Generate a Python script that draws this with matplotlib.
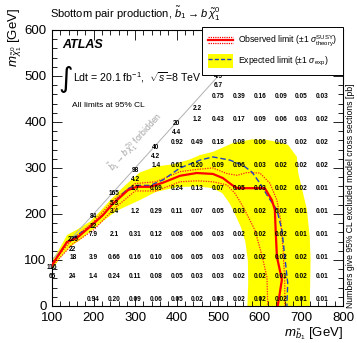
import numpy as np
import matplotlib
matplotlib.use('Agg')
import matplotlib.pyplot as plt
from matplotlib.lines import Line2D
from matplotlib.patches import Rectangle
from matplotlib.legend_handler import HandlerBase, HandlerTuple
from matplotlib.ticker import MultipleLocator

plt.rcParams['font.family'] = ['Liberation Sans', 'DejaVu Sans']
plt.rcParams['mathtext.fontset'] = 'custom'
plt.rcParams['mathtext.rm'] = 'Liberation Sans'
plt.rcParams['mathtext.it'] = 'Liberation Sans:italic'
plt.rcParams['mathtext.bf'] = 'Liberation Sans:bold'

# expected limit +-1 sigma band (upper/outer edge, then lower/inner edge)
band_up_mb = [100, 120, 136, 160, 191, 215, 240, 271, 311, 350, 391, 430, 456, 487, 535, 580, 617, 650, 668, 689, 692, 700, 713, 720, 722, 720]
band_up_mchi = [98, 128, 154, 166, 183, 205, 230, 258, 290, 303, 308, 318, 328, 335, 354, 362, 361, 355, 350, 324, 290, 260, 210, 150, 100, 0]
band_lo_mb = [100, 120, 143, 170, 191, 232, 256, 287, 311, 350, 400, 450, 487, 510, 528, 540, 555, 565, 571, 572, 570]
band_lo_mchi = [78, 105, 128, 145, 161, 191, 207, 220, 230, 248, 258, 260, 256, 245, 222, 200, 170, 140, 100, 50, 0]

# expected limit
exp_mb = [100, 136, 191, 223, 256, 283, 304, 336, 367, 408, 456, 487, 528, 559, 581, 600, 620, 641, 653, 660, 667, 665]
exp_mchi = [90, 139, 172, 198, 232, 255, 262, 262, 274, 300, 317, 324, 317, 306, 291, 267, 237, 209, 165, 107, 50, 0]

# observed limit and +-1 sigma theory
obs_mb = [100, 136, 160, 191, 223, 244, 256, 283, 304, 336, 367, 408, 448, 487, 511, 533, 545, 612, 629, 636, 638, 641, 653, 643]
obs_mchi = [89, 139, 148, 172, 198, 220, 230, 252, 259, 259, 268, 283, 289, 287, 278, 263, 256, 256, 230, 209, 165, 107, 57, 0]
obs_up_mb = [100, 150, 200, 250, 300, 350, 408, 450, 487, 520, 545, 569, 600, 624, 641, 650, 656, 660, 660]
obs_up_mchi = [93, 146, 183, 232, 266, 270, 292, 297, 300, 288, 284, 290, 289, 267, 230, 187, 120, 50, 0]
obs_dn_mb = [100, 150, 200, 250, 300, 350, 408, 450, 487, 521, 540, 560, 588, 605, 617, 619]
obs_dn_mchi = [86, 135, 165, 212, 250, 250, 270, 272, 270, 263, 245, 215, 165, 110, 63, 0]

# excluded cross sections [pb] at the model points
grid_rows = {
    450: ['', '', '', '', '', '', '', '', '0.75', '0.39', '0.16', '0.09', '0.05', '0.03'],
    400: ['', '', '', '', '', '', '', '1.2', '0.43', '0.17', '0.09', '0.06', '0.03', '0.02'],
    350: ['', '', '', '', '', '', '0.92', '0.49', '0.18', '0.08', '0.06', '0.03', '0.02', '0.02'],
    300: ['', '', '', '', '', '1.4', '0.61', '0.20', '0.09', '0.06', '0.03', '0.02', '0.02', '0.02'],
    250: ['', '', '', '', '1.7', '0.69', '0.24', '0.13', '0.07', '0.05', '0.03', '0.02', '0.02', '0.01'],
    200: ['', '', '', '3.4', '1.2', '0.29', '0.11', '0.07', '0.05', '0.03', '0.02', '0.02', '0.01', '0.01'],
    150: ['', '', '7.9', '2.1', '0.31', '0.12', '0.08', '0.06', '0.03', '0.02', '0.02', '0.02', '0.01', '0.01'],
    100: ['', '18', '3.9', '0.66', '0.16', '0.10', '0.06', '0.05', '0.03', '0.02', '0.02', '0.02', '0.02', '0.01'],
    60: ['65', '24', '1.4', '0.24', '0.11', '0.08', '0.05', '0.03', '0.03', '0.02', '0.02', '0.01', '0.02', '0.01'],
    10: ['', '', '0.94', '0.20', '0.09', '0.06', '0.05', '0.02', '0.03', '0.02', '0.02', '0.02', '0.01', '0.01'],
}
grid_mb = [100, 150, 200, 250, 300, 350, 400, 450, 500, 550, 600, 650, 700, 750]

# compressed points near the diagonal
diag_mb = [100, 150, 150, 200, 200, 250, 250, 300, 300, 350, 350, 400, 400, 450, 500, 500]
diag_mchi = [80, 140, 119, 190, 169, 240, 219, 290, 271, 340, 321, 393, 373, 425, 475, 495]
diag_xsec = ['116', '225', '22', '84', '12', '165', '5.3', '98', '4.2', '40', '4.2', '20', '4.4', '2.2', '6.7', '4.9']

kin_mb = [100, 600]

fig = plt.figure(figsize=(3.57, 3.43), dpi=100)
ax = fig.add_axes([0.1457, 0.108, 0.8151, 0.8047])
ax.set_xlim(100, 800)
ax.set_ylim(0, 600)

ax.fill(band_up_mb + band_lo_mb[::-1], band_up_mchi + band_lo_mchi[::-1],
        color='#ffff00', lw=0, zorder=1)
ax.plot(kin_mb, kin_mb, color='#b0b0b0', lw=0.7, zorder=1.5)
ax.plot(obs_up_mb, obs_up_mchi, color='#ff2020', lw=0.9, ls=(0, (1, 1)), zorder=3)
ax.plot(obs_dn_mb, obs_dn_mchi, color='#ff2020', lw=0.9, ls=(0, (1, 1)), zorder=3)
ax.plot(exp_mb, exp_mchi, color='#2040c0', lw=1.0, ls=(0, (4, 2)), zorder=4)
ax.plot(obs_mb, obs_mchi, color='#ff0000', lw=1.6, zorder=5)

for mchi, vals in grid_rows.items():
    for mb, v in zip(grid_mb, vals):
        if v:
            ax.annotate(v, (mb, mchi), xytext=(0, 1.5), textcoords='offset points',
                        ha='center', va='center', fontsize=4.7, fontweight='bold',
                        annotation_clip=False, zorder=6)
for mb, mchi, v in zip(diag_mb, diag_mchi, diag_xsec):
    ax.annotate(v, (mb, mchi), xytext=(0, 1.5), textcoords='offset points',
                ha='center', va='center', fontsize=4.7, fontweight='bold',
                annotation_clip=False, zorder=6)

ax.text(302, 356, r'$\tilde{b}_1 \rightarrow b\,\tilde{\chi}_1^0$ forbidden', color='#a0a0a0',
        fontsize=6.2, rotation=45, transform_rotates_text=True, rotation_mode='anchor',
        ha='center', va='center', zorder=2)

ax.xaxis.set_major_locator(MultipleLocator(100))
ax.xaxis.set_minor_locator(MultipleLocator(20))
ax.yaxis.set_major_locator(MultipleLocator(100))
ax.yaxis.set_minor_locator(MultipleLocator(20))
ax.tick_params(which='both', direction='in', top=True, right=True, width=0.6, labelsize=9.5)
ax.tick_params(which='major', length=7)
ax.tick_params(which='minor', length=3.5)
ax.tick_params(axis='x', pad=4.5)
ax.tick_params(axis='y', pad=4)
for s in ax.spines.values():
    s.set_linewidth(0.8)

ax.text(1.0, -0.072, r'$m_{\tilde{b}_1}$ [GeV]', transform=ax.transAxes, ha='right', va='top', fontsize=9.5)
ax.text(-0.128, 1.08, r'$m_{\tilde{\chi}_1^0}$ [GeV]', transform=ax.transAxes, rotation=90,
        ha='center', va='top', fontsize=9.5)
fig.text(0.14, 0.958, r'Sbottom pair production, $\tilde{b}_1 \rightarrow b\;\tilde{\chi}_1^0$',
         ha='left', va='center', fontsize=8)
fig.text(0.982, 0.43, 'Numbers give 95% CL excluded model cross sections [pb]', rotation=90,
         ha='center', va='center', fontsize=6.2)

ax.text(0.034, 0.946, 'ATLAS', transform=ax.transAxes, fontsize=9, fontweight='bold',
        fontstyle='italic', va='center')
ax.text(0.022, 0.822, '\u222b', transform=ax.transAxes, fontsize=20, va='center', family='DejaVu Sans')
ax.text(0.072, 0.826, r'Ldt = 20.1 fb$^{-1}$,  $\sqrt{s}$=8 TeV', transform=ax.transAxes,
        fontsize=7.6, va='center')
ax.text(0.069, 0.728, 'All limits at 95% CL', transform=ax.transAxes, fontsize=6, va='center')


class ObsHandler(HandlerBase):
    def create_artists(self, legend, orig_handle, xdescent, ydescent, width, height, fontsize, trans):
        yc = height / 2.0 - ydescent
        out = []
        for dy, ls, lw in ((0.22, (0, (1, 0.8)), 0.9), (0.0, '-', 1.6), (-0.22, (0, (1, 0.8)), 0.9)):
            out.append(Line2D([-xdescent, -xdescent + width], [yc + dy * height] * 2, color='red',
                              linestyle=ls, linewidth=lw, transform=trans))
        return out


obs_handle = Line2D([], [], color='red')
exp_handle = (Rectangle((0, 0), 1, 1, facecolor='#ffff00', edgecolor='none'),
              Line2D([], [], color='#2040c0', ls=(0, (3, 1.5)), lw=1.0))
leg = ax.legend([obs_handle, exp_handle],
                [r'Observed limit ($\pm 1\ \sigma^{\rm SUSY}_{\rm theory}$)',
                 r'Expected limit ($\pm 1\ \sigma_{\rm exp}$)'],
                handler_map={obs_handle: ObsHandler(), tuple: HandlerTuple(ndivide=1)},
                loc='upper right', bbox_to_anchor=(1.0, 1.012), fontsize=6.2,
                handlelength=2.9, handleheight=2.0, labelspacing=0.75, borderpad=0.75,
                handletextpad=0.5, borderaxespad=0, fancybox=False, framealpha=1,
                edgecolor='black')
leg.get_frame().set_linewidth(0.7)
leg.set_zorder(10)

fig.savefig('out.png', dpi=100)
